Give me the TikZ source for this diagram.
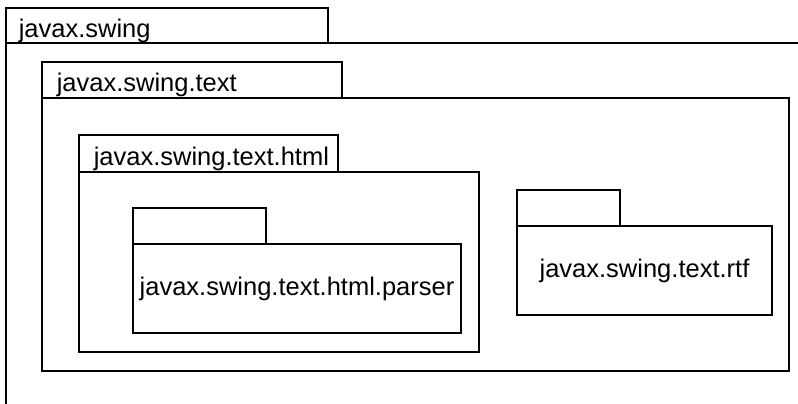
\documentclass[tikz,border=0pt]{standalone}
\usepackage{fontspec}
\setmainfont{Liberation Sans}
\begin{document}
\begin{tikzpicture}[x=1pt,y=1pt,line width=1.5pt,
  box/.style={draw, anchor=north west, inner sep=0pt, outer sep=0pt},
  pkgfont/.style={font=\fontsize{25.5}{30}\selectfont},
  lbl/.style={anchor=base west, inner sep=0pt, pkgfont}]
\useasboundingbox (0,0) rectangle (798,-404);
% javax.swing
\node[box, minimum width=322pt, minimum height=35pt] (swingtab) at (6,-8) {};
\coordinate (swingright) at (798,-43);
\coordinate (swingend) at (6,-404);
\draw (swingright) -- (swingtab.south west) -- (swingend);
\node[lbl] (swinglbl) at (18,-37.5) {javax.swing};
% javax.swing.text
\node[box, minimum width=300pt, minimum height=36pt] (texttab) at (42,-62) {};
\node[box, minimum width=747pt, minimum height=273pt] (textbody) at (42,-98) {};
\node[lbl] (textlbl) at (56,-92) {javax.swing.text};
% javax.swing.text.html
\node[box, minimum width=259pt, minimum height=37pt] (htmltab) at (79,-135) {};
\node[box, minimum width=400pt, minimum height=180pt] (htmlbody) at (79,-172) {};
\node[lbl] (htmllbl) at (93,-165) {javax.swing.text.html};
% javax.swing.text.html.parser
\node[box, minimum width=133pt, minimum height=36pt] (parsertab) at (133,-208) {};
\node[box, pkgfont, minimum width=328pt, minimum height=89pt] (parserbody) at (133,-244) {javax.swing.text.html.parser};
% javax.swing.text.rtf
\node[box, minimum width=103pt, minimum height=36pt] (rtftab) at (517,-190) {};
\node[box, pkgfont, minimum width=255pt, minimum height=89pt] (rtfbody) at (517,-226) {javax.swing.text.rtf};
\end{tikzpicture}
\end{document}
